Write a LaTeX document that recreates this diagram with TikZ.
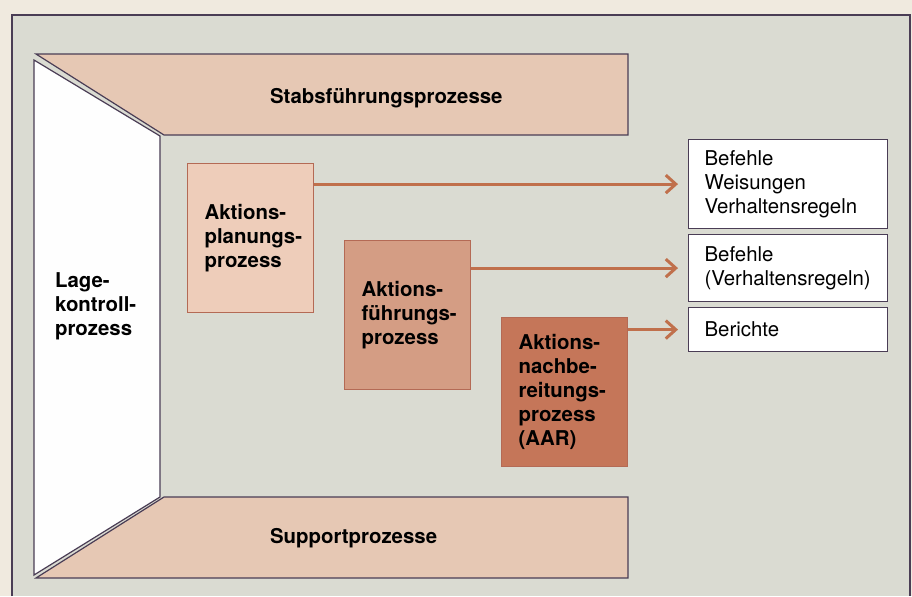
\documentclass[tikz,border=0pt]{standalone}
\usepackage{fontspec}
\setmainfont{TeX Gyre Heros}
\usetikzlibrary{arrows.meta}
\definecolor{paper}{HTML}{F0EADF}
\definecolor{panel}{HTML}{DADBD2}
\definecolor{frameline}{HTML}{4A3D55}
\definecolor{band}{HTML}{E6C8B4}
\definecolor{planfill}{HTML}{EECDBA}
\definecolor{fuehrfill}{HTML}{D49D84}
\definecolor{aarfill}{HTML}{C57659}
\definecolor{boxline}{HTML}{B46A55}
\definecolor{arrowcol}{HTML}{C0704C}
\begin{document}
\begin{tikzpicture}[
		x=0.5pt, y=-0.5pt,
		font=\fontsize{10.2}{12}\selectfont,
		outline/.style={draw=frameline, line width=0.6pt},
		procbox/.style={draw=boxline, line width=0.6pt, anchor=north west, align=left,
				text width=46pt, inner xsep=8.5pt, minimum height=74.5pt,
				execute at begin node={\exhyphenpenalty=10000\hbadness=10000},
				font=\fontsize{10.2}{12}\selectfont\bfseries},
		outbox/.style={outline, fill=white, anchor=north west, align=left,
				text width=83.5pt, inner xsep=8pt, inner ysep=0pt},
		flow/.style={arrowcol, line width=1.5pt, shorten >=5pt,
				-{Straight Barb[length=5pt, width=9pt, line width=1.5pt]}},
	]
	\path[use as bounding box, fill=paper] (0,0) rectangle (912,596);
	\fill[panel] (12,15) rectangle (910,596);
	\draw[outline] (12,596) -- (12,15) -- (910,15) -- (910,596);
	% left side and the two bands
	\draw[outline, fill=white!97!panel] (34,60) -- (160,136) -- (160,497) -- (34,575) -- cycle;
	\draw[outline, fill=band] (36,54) -- (628,54) -- (628,135) -- (164,135) -- cycle;
	\draw[outline, fill=band] (164,497) -- (628,497) -- (628,578) -- (36,578) -- cycle;
	\node[anchor=west, font=\fontsize{10.2}{12}\selectfont\bfseries] (stab) at (263,98) {Stabsführungsprozesse};
	\node[anchor=west, font=\fontsize{10.2}{12}\selectfont\bfseries] (support) at (263,538) {Supportprozesse};
	\node[anchor=west, align=left, font=\fontsize{10.2}{12}\selectfont\bfseries] (lage) at (48,306) {Lage-\\kontroll-\\prozess};
	% processes
	\node[procbox, fill=planfill] (plan) at (187,163) {Aktions-\\planungs-\\prozess};
	\node[procbox, fill=fuehrfill] (fuehr) at (344,240) {Aktions-\\führungs-\\prozess};
	\node[procbox, fill=aarfill] (aar) at (501,317) {Aktions-\\nachbe-\\reitungs-\\prozess\\(AAR)};
	% outputs
	\node[outbox, minimum height=44.5pt] (befehle) at (688,139) {Befehle\\Weisungen\\Verhaltensregeln};
	\node[outbox, minimum height=33.5pt] (regeln) at (688,234) {Befehle\\(Verhaltensregeln)};
	\node[outbox, minimum height=22pt] (berichte) at (688,307) {Berichte};
	\draw[flow] (plan.east |- befehle.west) -- (befehle.west);
	\draw[flow] (fuehr.east |- regeln.west) -- (regeln.west);
	\draw[flow] (aar.east |- berichte.west) -- (berichte.west);
\end{tikzpicture}
\end{document}
